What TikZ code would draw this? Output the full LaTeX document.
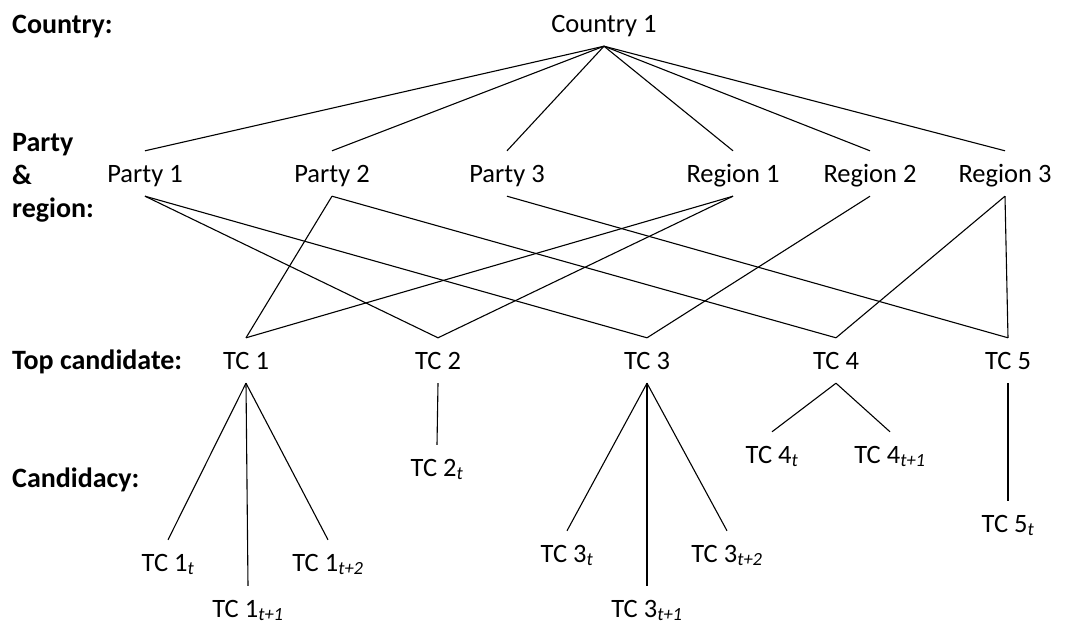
\documentclass[tikz,border=0pt]{standalone}
\usepackage{fontspec}
\setmainfont{Carlito}
\newcommand{\sbs}[1]{\textsubscript{\itshape #1}}
\begin{document}
\begin{tikzpicture}[x=1pt,y=-1pt,
  nd/.style={inner sep=0pt, text height=31pt, text depth=14pt, anchor=base, font=\fontsize{26.5}{31}\selectfont},
  lbl/.style={inner sep=0pt, anchor=base west, font=\fontsize{28}{33}\selectfont\bfseries},
  link/.style={line width=1.1pt, black}]
\useasboundingbox (0,0) rectangle (1069,624);
% left labels
\node[lbl] (lc) at (12,33) {Country:};
\node[lbl] (lp) at (12,151) {Party};
\node[lbl] (la) at (12,184) {\&};
\node[lbl] (lr) at (12,217) {region:};
\node[lbl] (lt) at (12,369) {Top candidate:};
\node[lbl] (lcd) at (12,487) {Candidacy:};
% country
\node[nd] (c) at (604,32) {Country 1};
% party & region
\node[nd] (p1) at (145,182) {Party 1};
\node[nd] (p2) at (332,182) {Party 2};
\node[nd] (p3) at (507,182) {Party 3};
\node[nd] (r1) at (733,182) {Region 1};
\node[nd] (r2) at (870,182) {Region 2};
\node[nd] (r3) at (1005,182) {Region 3};
% top candidates
\node[nd] (t1) at (246,369) {TC 1};
\node[nd] (t2) at (438,369) {TC 2};
\node[nd] (t3) at (647,369) {TC 3};
\node[nd] (t4) at (836,369) {TC 4};
\node[nd] (t5) at (1008,369) {TC 5};
% candidacies
\node[nd] (t1a) at (168,571) {TC 1\sbs{t}};
\node[nd] (t1b) at (248,617) {TC 1\sbs{t+1}};
\node[nd] (t1c) at (328,571) {TC 1\sbs{t+2}};
\node[nd] (t2a) at (437,476) {TC 2\sbs{t}};
\node[nd] (t3a) at (567,562) {TC 3\sbs{t}};
\node[nd] (t3b) at (647,617) {TC 3\sbs{t+1}};
\node[nd] (t3c) at (727,562) {TC 3\sbs{t+2}};
\node[nd] (t4a) at (772,463) {TC 4\sbs{t}};
\node[nd] (t4b) at (890,463) {TC 4\sbs{t+1}};
\node[nd] (t5a) at (1008,532) {TC 5\sbs{t}};
% connectors
\foreach \n in {p1,p2,p3,r1,r2,r3} \draw[link] (c.south) -- (\n.north);
\draw[link] (p1.south) -- (t2.north);
\draw[link] (p1.south) -- (t3.north);
\draw[link] (p2.south) -- (t1.north);
\draw[link] (p2.south) -- (t4.north);
\draw[link] (p3.south) -- (t5.north);
\draw[link] (r1.south) -- (t1.north);
\draw[link] (r1.south) -- (t2.north);
\draw[link] (r2.south) -- (t3.north);
\draw[link] (r3.south) -- (t4.north);
\draw[link] (r3.south) -- (t5.north);
\foreach \n in {t1a,t1b,t1c} \draw[link] (t1.south) -- (\n.north);
\draw[link] (t2.south) -- (t2a.north);
\foreach \n in {t3a,t3b,t3c} \draw[link] (t3.south) -- (\n.north);
\foreach \n in {t4a,t4b} \draw[link] (t4.south) -- (\n.north);
\draw[link] (t5.south) -- (t5a.north);
\end{tikzpicture}
\end{document}
